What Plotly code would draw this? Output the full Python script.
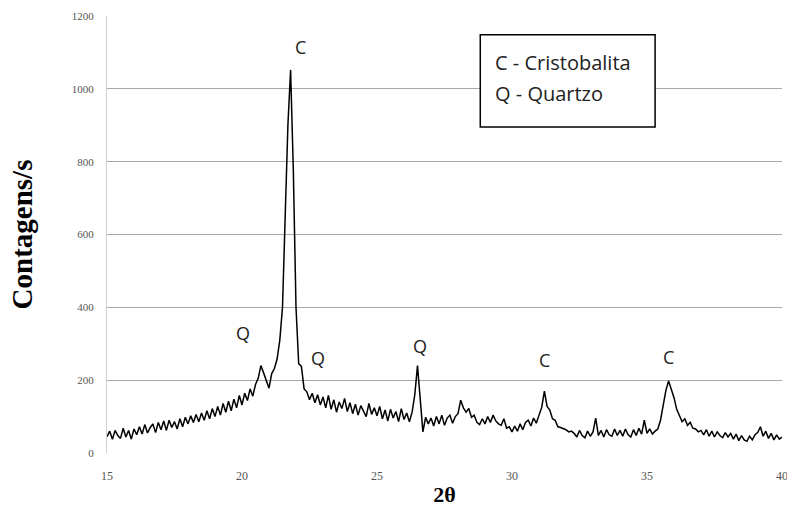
import plotly.graph_objects as go

two_theta = [round(15 + 0.1 * i, 1) for i in range(251)]

counts = [
    # 15.0 - 15.9
    45, 60, 38, 62, 48, 40, 68, 44, 62, 38,
    # 16.0 - 16.9
    66, 50, 72, 52, 78, 55, 70, 80, 56, 84,
    # 17.0 - 17.9
    64, 88, 62, 90, 70, 86, 66, 94, 72, 98,
    # 18.0 - 18.9
    80, 102, 84, 106, 86, 110, 90, 116, 94, 122,
    # 19.0 - 19.9
    100, 128, 104, 136, 112, 142, 116, 148, 124, 158,
    # 20.0 - 20.9
    132, 164, 144, 176, 156, 188, 205, 240, 220, 196,
    # 21.0 - 21.9
    178, 218, 232, 258, 310, 400, 620, 900, 1052, 780,
    # 22.0 - 22.9
    400, 245, 238, 176, 168, 146, 164, 138, 160, 132,
    # 23.0 - 23.9
    154, 124, 158, 120, 146, 112, 140, 122, 150, 114,
    # 24.0 - 24.9
    138, 108, 134, 104, 130, 114, 100, 136, 106, 124,
    # 25.0 - 25.9
    102, 128, 94, 118, 88, 120, 96, 114, 86, 122,
    # 26.0 - 26.9
    92, 110, 86, 112, 160, 240, 160, 58, 98, 80,
    # 27.0 - 27.9
    96, 74, 100, 80, 104, 76, 96, 104, 82, 100,
    # 28.0 - 28.9
    108, 145, 124, 112, 122, 98, 104, 84, 78, 94,
    # 29.0 - 29.9
    80, 100, 84, 104, 88, 80, 76, 94, 68, 72,
    # 30.0 - 30.9
    58, 74, 60, 80, 64, 84, 90, 74, 96, 82,
    # 31.0 - 31.9
    104, 125, 170, 128, 118, 94, 90, 72, 70, 68,
    # 32.0 - 32.9
    64, 58, 60, 54, 44, 62, 48, 42, 60, 46,
    # 33.0 - 33.9
    58, 96, 48, 62, 44, 64, 50, 46, 66, 48,
    # 34.0 - 34.9
    62, 46, 66, 50, 44, 64, 48, 68, 52, 90,
    # 35.0 - 35.9
    54, 66, 52, 60, 66, 90, 130, 172, 198, 174,
    # 36.0 - 36.9
    152, 120, 102, 86, 94, 76, 84, 68, 66, 58,
    # 37.0 - 37.9
    62, 50, 64, 46, 60, 44, 58, 48, 42, 56,
    # 38.0 - 38.9
    44, 54, 38, 52, 34, 48, 36, 32, 46, 36,
    # 39.0 - 39.9
    50, 56, 72, 46, 60, 40, 54, 36, 50, 38,
    # 40.0
    44,
]

peak_labels = ["C", "Q", "Q", "Q", "C", "C"]
peak_x = [22.15, 20.05, 22.8, 26.6, 31.2, 35.8]
peak_y = [1115, 330, 262, 294, 255, 264]

legend_lines = ["C - Cristobalita", "Q - Quartzo"]

x_ticks = [15, 20, 25, 30, 35, 40]
y_ticks = [0, 200, 400, 600, 800, 1000, 1200]

fig = go.Figure()
fig.add_trace(go.Scatter(
    x=two_theta, y=counts, mode="lines",
    line=dict(color="black", width=1.5),
    showlegend=False, hoverinfo="skip",
))

sans = "Open Sans, Liberation Sans, sans-serif"
serif = "Liberation Serif, Times New Roman, serif"

for lab, px, py in zip(peak_labels, peak_x, peak_y):
    fig.add_annotation(
        x=px, y=py, text=lab, showarrow=False,
        font=dict(family=sans, size=18, color="#222"),
    )

# legend box
fig.add_shape(
    type="rect", xref="paper", yref="paper",
    x0=0.553, x1=0.812, y0=0.746, y1=0.957,
    line=dict(color="black", width=1.5), fillcolor="white", layer="above",
)
for i, t in enumerate(legend_lines):
    fig.add_annotation(
        xref="paper", yref="paper", x=0.572, y=0.893 - i * 0.071,
        text=t, showarrow=False, xanchor="left", yanchor="middle",
        font=dict(family=sans, size=20, color="#222"),
    )

fig.update_layout(
    width=787, height=507,
    margin=dict(l=107, r=5, t=16, b=54),
    paper_bgcolor="white", plot_bgcolor="white",
    font=dict(family=serif, color="#555"),
)
fig.update_xaxes(
    range=[15, 40], tickvals=x_ticks, showgrid=False, automargin=False,
    showline=False, zeroline=False, ticklabeloverflow="allow",
    ticks="outside", ticklen=12, tickcolor="rgba(0,0,0,0)",
    tickfont=dict(size=12, color="#555"),
    title=dict(text="<b>2θ</b>", font=dict(size=22, color="black", family=serif), standoff=4),
)
fig.update_yaxes(
    range=[0, 1200], tickvals=y_ticks, showgrid=True, gridcolor="#a8a8a8", gridwidth=1,
    showline=True, linecolor="#d0d0d0", linewidth=1, zeroline=False, automargin=False,
    ticks="outside", ticklen=10, tickcolor="rgba(0,0,0,0)",
    tickfont=dict(size=11, color="#555"),
    title=dict(text="<b>Contagens/s</b>", font=dict(size=29, color="black", family=serif), standoff=30),
)

fig.write_html("out.html")
